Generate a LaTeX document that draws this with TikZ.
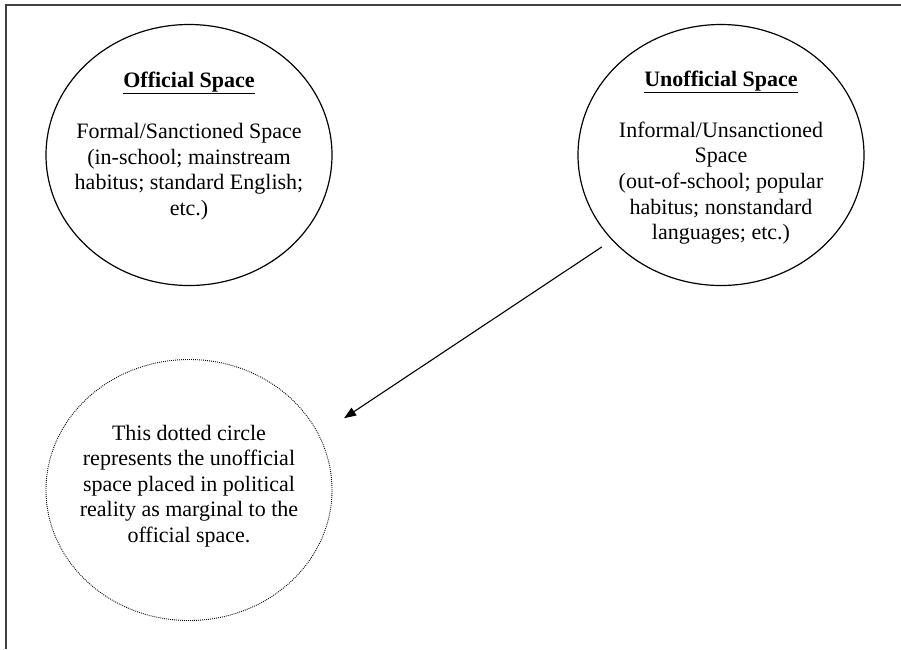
\documentclass[tikz,border=0pt]{standalone}
\usepackage{fontspec}
\setmainfont{Liberation Serif}
\usetikzlibrary{positioning,arrows.meta,shapes.geometric}

\begin{document}
\begin{tikzpicture}[x=1pt,y=-1pt,font=\fontsize{22}{25.6}\selectfont]
  \tikzstyle{ov}=[draw,ellipse,minimum width=286pt,minimum height=261pt,inner sep=0pt,line width=1.2pt]
  \tikzstyle{txt}=[align=center,inner sep=0pt]
  \useasboundingbox (0,0) rectangle (901,649);
  \draw[line width=2pt,black!75] (6,649) |- (901,5);
  % the two spaces and the marginal one
  \node[ov] (off) at (189,155) {};
  \node[ov] (unoff) at (721,155) {};
  \node[ov,line width=0.9pt,dash pattern=on 0.9pt off 1.1pt] (marg) at (189,490) {};
  \node[txt,yshift=9pt] (offtxt) at (off.center) {\textbf{\underline{Official Space}}\\[25.6pt]
    Formal/Sanctioned Space\\(in-school; mainstream\\habitus; standard English;\\etc.)};
  \node[txt,yshift=-2.5pt] (unofftxt) at (unoff.center) {\textbf{\underline{Unofficial Space}}\\[25.6pt]
    Informal/Unsanctioned\\Space\\(out-of-school; popular\\habitus; nonstandard\\languages; etc.)};
  \node[txt,yshift=4pt] (margtxt) at (marg.center) {This dotted circle\\represents the unofficial\\space placed in political\\reality as marginal to the\\official space.};
  \draw[-{Triangle[length=12pt,width=9pt]},line width=1.1pt,shorten <=12pt,shorten >=30pt] (unoff.218.5) -- (marg.23.5);
\end{tikzpicture}
\end{document}
